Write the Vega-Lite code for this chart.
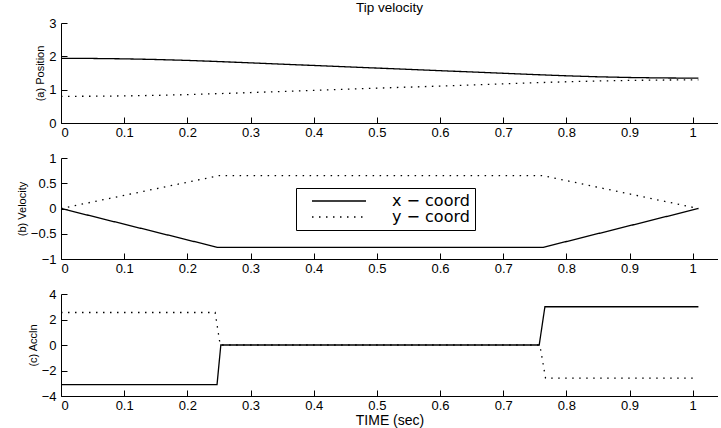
{
  "$schema": "https://vega.github.io/schema/vega-lite/v6.json",
  "background": "white",
  "padding": {"left": 16, "top": 0, "right": 0, "bottom": 3},
  "spacing": 35,
  "bounds": "flush",
  "config": {
    "view": {"stroke": null},
    "axis": {
      "domainColor": "black", "tickColor": "black", "labelColor": "black", "titleColor": "black",
      "labelFont": "Liberation Sans", "titleFont": "Liberation Sans",
      "labelFontSize": 13, "titleFontSize": 11, "titleFontWeight": "normal",
      "grid": false, "tickSize": -6, "domainWidth": 1, "tickWidth": 1
    },
    "axisY": {"labelPadding": 11, "titlePadding": 3},
    "axisX": {"labelPadding": 9.5}
  },
  "resolve": {"scale": {"strokeDash": "independent"}, "legend": {"strokeDash": "independent"}},
  "vconcat": [
    {
      "width": 657, "height": 100,
      "title": {"text": "Tip velocity", "fontSize": 13.5, "font": "Liberation Sans", "fontWeight": "normal", "offset": 3, "anchor": "middle", "color": "black"},
      "data": {"values": [
        {"t": 0, "c": "x − coord", "v": 1.94},
        {"t": 0.05, "c": "x − coord", "v": 1.936},
        {"t": 0.1, "c": "x − coord", "v": 1.925},
        {"t": 0.15, "c": "x − coord", "v": 1.905},
        {"t": 0.2, "c": "x − coord", "v": 1.878},
        {"t": 0.25, "c": "x − coord", "v": 1.843},
        {"t": 0.3, "c": "x − coord", "v": 1.804},
        {"t": 0.4, "c": "x − coord", "v": 1.726},
        {"t": 0.5, "c": "x − coord", "v": 1.648},
        {"t": 0.6, "c": "x − coord", "v": 1.57},
        {"t": 0.7, "c": "x − coord", "v": 1.492},
        {"t": 0.76, "c": "x − coord", "v": 1.445},
        {"t": 0.8, "c": "x − coord", "v": 1.416},
        {"t": 0.85, "c": "x − coord", "v": 1.386},
        {"t": 0.9, "c": "x − coord", "v": 1.365},
        {"t": 0.95, "c": "x − coord", "v": 1.352},
        {"t": 1.009, "c": "x − coord", "v": 1.345},
        {"t": 0, "c": "y − coord", "v": 0.8},
        {"t": 0.05, "c": "y − coord", "v": 0.803},
        {"t": 0.1, "c": "y − coord", "v": 0.813},
        {"t": 0.15, "c": "y − coord", "v": 0.829},
        {"t": 0.2, "c": "y − coord", "v": 0.852},
        {"t": 0.25, "c": "y − coord", "v": 0.881},
        {"t": 0.3, "c": "y − coord", "v": 0.914},
        {"t": 0.4, "c": "y − coord", "v": 0.979},
        {"t": 0.5, "c": "y − coord", "v": 1.044},
        {"t": 0.6, "c": "y − coord", "v": 1.109},
        {"t": 0.7, "c": "y − coord", "v": 1.174},
        {"t": 0.76, "c": "y − coord", "v": 1.213},
        {"t": 0.8, "c": "y − coord", "v": 1.237},
        {"t": 0.85, "c": "y − coord", "v": 1.261},
        {"t": 0.9, "c": "y − coord", "v": 1.278},
        {"t": 0.95, "c": "y − coord", "v": 1.289},
        {"t": 1.009, "c": "y − coord", "v": 1.294}
      ]},
      "mark": {"type": "line", "color": "black", "strokeWidth": 1.3},
      "encoding": {
        "x": {"field": "t", "type": "quantitative", "scale": {"domain": [0, 1.04], "nice": false, "zero": false},
              "axis": {"values": [0, 0.1, 0.2, 0.3, 0.4, 0.5, 0.6, 0.7, 0.8, 0.9, 1], "format": "~g", "title": null}},
        "y": {"field": "v", "type": "quantitative", "scale": {"domain": [0, 3], "nice": false},
              "axis": {"values": [0, 1, 2, 3], "format": "~g", "title": "(a) Position"}},
        "strokeDash": {"field": "c", "type": "nominal", "scale": {"domain": ["x − coord", "y − coord"], "range": [[1, 0], [1.5, 5.5]]}, "legend": null}
      }
    },
    {
      "width": 657, "height": 101,
      "data": {"values": [
        {"t": 0, "c": "x − coord", "v": 0},
        {"t": 0.248, "c": "x − coord", "v": -0.77},
        {"t": 0.763, "c": "x − coord", "v": -0.77},
        {"t": 1.009, "c": "x − coord", "v": 0},
        {"t": 0, "c": "y − coord", "v": 0},
        {"t": 0.25, "c": "y − coord", "v": 0.65},
        {"t": 0.763, "c": "y − coord", "v": 0.65},
        {"t": 1.009, "c": "y − coord", "v": 0}
      ]},
      "mark": {"type": "line", "color": "black", "strokeWidth": 1.3},
      "encoding": {
        "x": {"field": "t", "type": "quantitative", "scale": {"domain": [0, 1.04], "nice": false, "zero": false},
              "axis": {"values": [0, 0.1, 0.2, 0.3, 0.4, 0.5, 0.6, 0.7, 0.8, 0.9, 1], "format": "~g", "title": null}},
        "y": {"field": "v", "type": "quantitative", "scale": {"domain": [-1, 1], "nice": false},
              "axis": {"values": [-1, -0.5, 0, 0.5, 1], "format": "~g", "title": "(b) Velocity"}},
        "strokeDash": {"field": "c", "type": "nominal", "scale": {"domain": ["x − coord", "y − coord"], "range": [[1, 0], [1.5, 5.5]]},
          "legend": {"orient": "none", "legendX": 235, "legendY": 30, "title": null, "strokeColor": "black", "fillColor": "white",
            "padding": 5, "symbolType": "stroke", "symbolStrokeColor": "black", "symbolStrokeWidth": 1.3, "symbolSize": 2916,
            "symbolOffset": 10, "labelFont": "DejaVu Sans", "labelFontSize": 16, "labelOffset": 25, "rowPadding": 0,
            "clipHeight": 16, "labelColor": "black", "labelLimit": 300}}
      }
    },
    {
      "width": 657, "height": 102,
      "data": {"values": [
        {"t": 0, "c": "x − coord", "v": -3.1},
        {"t": 0.247, "c": "x − coord", "v": -3.1},
        {"t": 0.253, "c": "x − coord", "v": 0},
        {"t": 0.757, "c": "x − coord", "v": 0},
        {"t": 0.766, "c": "x − coord", "v": 3.0},
        {"t": 1.009, "c": "x − coord", "v": 3.0},
        {"t": 0, "c": "y − coord", "v": 2.55},
        {"t": 0.244, "c": "y − coord", "v": 2.55},
        {"t": 0.252, "c": "y − coord", "v": 0},
        {"t": 0.758, "c": "y − coord", "v": 0},
        {"t": 0.767, "c": "y − coord", "v": -2.6},
        {"t": 1.003, "c": "y − coord", "v": -2.6}
      ]},
      "mark": {"type": "line", "color": "black", "strokeWidth": 1.3},
      "encoding": {
        "x": {"field": "t", "type": "quantitative", "scale": {"domain": [0, 1.04], "nice": false, "zero": false},
              "axis": {"values": [0, 0.1, 0.2, 0.3, 0.4, 0.5, 0.6, 0.7, 0.8, 0.9, 1], "format": "~g", "title": "TIME (sec)", "titleFontSize": 14, "titlePadding": 1}},
        "y": {"field": "v", "type": "quantitative", "scale": {"domain": [-4, 4], "nice": false},
              "axis": {"values": [-4, -2, 0, 2, 4], "format": "~g", "title": "(c) Accln"}},
        "strokeDash": {"field": "c", "type": "nominal", "scale": {"domain": ["x − coord", "y − coord"], "range": [[1, 0], [1.5, 5.5]]}, "legend": null}
      }
    }
  ]
}
